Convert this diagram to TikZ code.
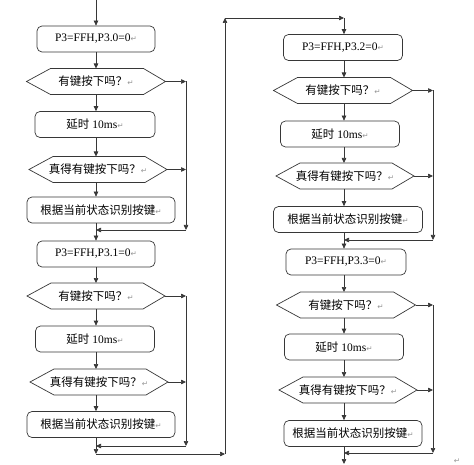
\documentclass[tikz,border=0pt]{standalone}
\usepackage{fontspec}
\setmainfont{Liberation Serif}
\newfontfamily\cjk{Noto Sans CJK SC}
\newfontfamily\symfont{DejaVu Sans}
\usetikzlibrary{arrows.meta, positioning}
\definecolor{linegray}{RGB}{55,55,55}
\definecolor{markgray}{RGB}{150,150,150}
\newcommand{\retmark}{{\symfont\color{markgray}\fontsize{7.5}{8}\selectfont ↵}}

\begin{document}
\begin{tikzpicture}[x=1pt,y=-1pt,
    box/.style={draw=linegray,line width=0.7pt,rounded corners=5pt,minimum height=26pt,inner sep=2pt,font=\fontsize{11.5}{13}\selectfont},
    ask/.style={outer sep=0pt,minimum height=26pt,inner sep=2pt,font=\fontsize{11.5}{13}\selectfont},
    edge/.style={draw=linegray,line width=0.7pt,line join=miter},
    arr/.style={-{Triangle[length=5pt,width=4.5pt]},linegray,line width=0.7pt}]
    \useasboundingbox (0,0) rectangle (474,465);

    % left column
    \coordinate (lc) at (96,0);
    \coordinate (lr) at (186,0);
    \coordinate (start) at (96,0);
    \node[box,minimum width=118pt] (b1) at (96,39) {P3=FFH,P3.0=0\retmark};
    \node[ask,minimum width=139pt] (h1) at (96,81.5) {{\cjk 有键按下吗？}\retmark};
    \node[box,minimum width=120pt] (b2) at (95,124.5) {{\cjk 延时} 10ms\retmark};
    \node[ask,minimum width=138pt] (h2) at (98,169.5) {{\cjk 真得有键按下吗？}\retmark};
    \node[box,minimum width=148pt] (b3) at (101,210) {{\cjk 根据当前状态识别按键}\retmark};
    \coordinate (m1) at (96,230);
    \node[box,minimum width=118pt] (b4) at (96,254) {P3=FFH,P3.1=0\retmark};
    \node[ask,minimum width=138pt] (h3) at (96,296) {{\cjk 有键按下吗？}\retmark};
    \node[box,minimum width=119pt] (b5) at (95,339) {{\cjk 延时} 10ms\retmark};
    \node[ask,minimum width=138pt] (h4) at (99,382) {{\cjk 真得有键按下吗？}\retmark};
    \node[box,minimum width=148pt] (b6) at (101,424.5) {{\cjk 根据当前状态识别按键}\retmark};
    \coordinate (m2) at (96,446);
    \coordinate (e1) at (96,454);

    % link up
    \coordinate (up) at (225,18);

    % right column
    \coordinate (rc) at (344,0);
    \coordinate (rr) at (433,0);
    \node[box,minimum width=119pt] (b7) at (343,47.5) {P3=FFH,P3.2=0\retmark};
    \node[ask,minimum width=139pt] (h5) at (343,90.5) {{\cjk 有键按下吗？}\retmark};
    \node[box,minimum width=119pt] (b8) at (340,134) {{\cjk 延时} 10ms\retmark};
    \node[ask,minimum width=138pt] (h6) at (345,176) {{\cjk 真得有键按下吗？}\retmark};
    \node[box,minimum width=149pt] (b9) at (348,219.5) {{\cjk 根据当前状态识别按键}\retmark};
    \coordinate (m3) at (344,240);
    \node[box,minimum width=120pt] (b10) at (346,262) {P3=FFH,P3.3=0\retmark};
    \node[ask,minimum width=139pt] (h7) at (346,305) {{\cjk 有键按下吗？}\retmark};
    \node[box,minimum width=119pt] (b11) at (344,347) {{\cjk 延时} 10ms\retmark};
    \node[ask,minimum width=138pt] (h8) at (348,390) {{\cjk 真得有键按下吗？}\retmark};
    \node[box,minimum width=138pt] (b12) at (353,433.5) {{\cjk 根据当前状态识别按键}\retmark};
    \coordinate (m4) at (344,453);
    \coordinate (fin) at (344,464);
    \node[inner sep=0pt] (tail) at (457,461) {\retmark};

    % hexagon outlines
    \foreach \h in {h1,h2,h3,h4,h5,h6,h7,h8}
        \draw[edge] (\h.west) -- ([xshift=24pt]\h.north west) -- ([xshift=-22pt]\h.north east)
            -- (\h.east) -- ([xshift=-22pt]\h.south east) -- ([xshift=24pt]\h.south west) -- cycle;

    % Arrows
    \draw[arr] (start) -- (b1.north -| lc);
    \foreach \a/\b in {b1/h1,h1/b2,b2/h2,h2/b3,b4/h3,h3/b5,b5/h4,h4/b6}
        \draw[arr] (\a.south -| lc) -- (\b.north -| lc);
    \foreach \a/\b in {b7/h5,h5/b8,b8/h6,h6/b9,b10/h7,h7/b11,b11/h8,h8/b12}
        \draw[arr] (\a.south -| rc) -- (\b.north -| rc);
    \foreach \h in {h1,h2,h3,h4}
        \draw[arr] (\h.east) -- (\h.east -| lr);
    \foreach \h in {h5,h6,h7,h8}
        \draw[arr] (\h.east) -- (\h.east -| rr);

    % loops back
    \draw[arr] (h1.east -| lr) -- (lr |- m1);
    \draw[arr] (lr |- m1) -- (m1);
    \draw[arr] (b3.south -| lc) -- (b4.north -| lc);
    \draw[arr] (h3.east -| lr) -- (lr |- m2);
    \draw[arr] (lr |- m2) -- (m2);
    \draw[arr] (b6.south -| lc) -- (e1);
    \draw[arr] (e1) -- (e1 -| up);
    \draw[arr] (e1 -| up) -- (up);
    \draw[arr] (up) -- (up -| rc);
    \draw[arr] (up -| rc) -- (b7.north -| rc);
    \draw[arr] (h5.east -| rr) -- (rr |- m3);
    \draw[arr] (rr |- m3) -- (m3);
    \draw[arr] (b9.south -| rc) -- (b10.north -| rc);
    \draw[arr] (h7.east -| rr) -- (rr |- m4);
    \draw[arr] (rr |- m4) -- (m4);
    \draw[arr] (b12.south -| rc) -- (fin);
\end{tikzpicture}
\end{document}
